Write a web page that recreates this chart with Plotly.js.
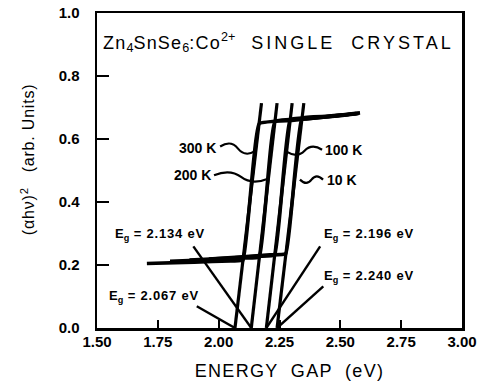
<!DOCTYPE html>
<html>
<head>
<meta charset="utf-8">
<script src="https://cdn.plot.ly/plotly-3.0.1.min.js"></script>
<style>
  html, body { margin: 0; padding: 0; background: #fff; }
  #chart { width: 488px; height: 387px; }
</style>
</head>
<body>
<div id="chart"></div>
<script>
// ---- data ----
const temps = ['300 K', '200 K', '100 K', '10 K'];
// extrapolated band-gap energies (x-intercepts), eV
const eg = [2.067, 2.134, 2.196, 2.240];
// x where each extrapolated straight line ends (top of line)
const lineTopX = [2.176, 2.240, 2.302, 2.350];
const lineTopY = [0.714, 0.714, 0.714, 0.714];

// measured (alpha h nu)^2 curves: low branch -> steep edge -> high branch
const curveX = [
  [1.705, 1.90, 2.05, 2.100, 2.167, 2.30, 2.45, 2.581],
  [1.800, 1.98, 2.10, 2.167, 2.232, 2.36, 2.50, 2.575],
  [1.880, 2.05, 2.16, 2.230, 2.294, 2.40, 2.52, 2.570],
  [1.960, 2.10, 2.21, 2.276, 2.342, 2.44, 2.53, 2.565]
];
const curveY = [
  [0.205, 0.209, 0.213, 0.215, 0.649, 0.659, 0.671, 0.683],
  [0.212, 0.217, 0.222, 0.225, 0.656, 0.664, 0.674, 0.681],
  [0.216, 0.222, 0.228, 0.231, 0.662, 0.668, 0.677, 0.681],
  [0.219, 0.226, 0.232, 0.236, 0.666, 0.672, 0.678, 0.681]
];

const xTicks = [1.50, 1.75, 2.00, 2.25, 2.50, 2.75, 3.00];
const yTicks = [0.0, 0.2, 0.4, 0.6, 0.8, 1.0];
const xTickText = ['1.50', '1.75', '2.00', '2.25', '2.50', '2.75', '3.00'];
const yTickText = ['0.0', '0.2', '0.4', '0.6', '0.8', '1.0'];

// ---- label placement (decoration) ----
const egLabelPos = [   // [x, y, anchor]
  [1.541, 0.100, 'left'],
  [1.566, 0.296, 'left'],
  [2.425, 0.296, 'left'],
  [2.425, 0.164, 'left']
];
const egPointerTail = [[1.910, 0.069], [1.896, 0.259], [2.417, 0.259], [2.430, 0.132]];
const tempLabelPos = [[1.997, 0.572, 'right'], [1.977, 0.487, 'right'], [2.429, 0.566, 'left'], [2.437, 0.471, 'left']];
const squiggle = [ // [x0,y0,x1,y1]
  [2.006, 0.576, 2.153, 0.563],
  [1.981, 0.485, 2.203, 0.474],
  [2.425, 0.566, 2.281, 0.559],
  [2.429, 0.471, 2.334, 0.471]
];

const FONT = '"Liberation Sans", Arial, Helvetica, sans-serif';
const sp = (t, px) => '<span style="letter-spacing:' + px + 'px">' + t + '</span>';

const traces = [];
for (let i = 0; i < temps.length; i++) {
  traces.push({
    x: [eg[i], lineTopX[i]], y: [0, lineTopY[i]],
    mode: 'lines', line: {color: '#000', width: 3.2},
    hoverinfo: 'skip', showlegend: false
  });
  traces.push({
    x: curveX[i], y: curveY[i], name: temps[i],
    mode: 'lines', line: {color: '#000', width: 3.6, shape: 'spline', smoothing: 0.3},
    showlegend: false
  });
}

const shapes = [];
const annotations = [];
for (let i = 0; i < eg.length; i++) {
  shapes.push({type: 'line', xref: 'x', yref: 'y',
    x0: egPointerTail[i][0], y0: egPointerTail[i][1], x1: eg[i], y1: 0,
    line: {color: '#000', width: 2.4}});
  annotations.push({xref: 'x', yref: 'y', x: egLabelPos[i][0], y: egLabelPos[i][1],
    xanchor: egLabelPos[i][2], yanchor: 'middle', showarrow: false,
    text: 'E<sub>g</sub>' + sp(' = ' + eg[i].toFixed(3) + ' eV', 0.8),
    font: {family: FONT, size: 13, color: '#000', weight: 'bold'}});
}
for (let i = 0; i < temps.length; i++) {
  const [x0, y0, x1, y1] = squiggle[i];
  const dx = x1 - x0, h = 0.014;
  const p = 'M ' + x0 + ',' + y0 +
    ' C ' + (x0 + dx * 0.2) + ',' + (y0 + h) + ' ' + (x0 + dx * 0.35) + ',' + (y0 + h) + ' ' + (x0 + dx * 0.5) + ',' + ((y0 + y1) / 2) +
    ' S ' + (x0 + dx * 0.8) + ',' + (y1 - h) + ' ' + x1 + ',' + y1;
  shapes.push({type: 'path', xref: 'x', yref: 'y', path: p, line: {color: '#000', width: 2.2}});
  annotations.push({xref: 'x', yref: 'y', x: tempLabelPos[i][0], y: tempLabelPos[i][1],
    xanchor: tempLabelPos[i][2], yanchor: 'middle', showarrow: false, text: temps[i],
    font: {family: FONT, size: 14, color: '#000', weight: 'bold'}});
}
annotations.push({xref: 'x', yref: 'y', x: 1.516, y: 0.905, xanchor: 'left', yanchor: 'middle',
  showarrow: false,
  text: sp('Zn', 1.2) + '<sub>4</sub>' + sp('SnSe', 1.2) + '<sub>6</sub>' + sp(':Co', 1.2) + '<sup>2+</sup>' +
        sp('  SINGLE  CRYSTAL', 3),
  font: {family: FONT, size: 18, color: '#000'}});

const layout = {
  width: 488, height: 387,
  margin: {l: 97, r: 26, t: 13, b: 59},
  paper_bgcolor: '#fff', plot_bgcolor: '#fff',
  font: {family: FONT, color: '#000'},
  xaxis: {
    range: [1.5, 3.0], tickvals: xTicks, ticktext: xTickText,
    ticks: 'inside', ticklen: 8, tickwidth: 2, tickcolor: '#000',
    showline: true, linewidth: 2.5, linecolor: '#000', mirror: true,
    showgrid: false, zeroline: false,
    tickfont: {family: FONT, size: 15, weight: 'bold'},
    ticklabelstandoff: -2,
    title: {text: '&nbsp;&nbsp;&nbsp;&nbsp;' + sp('ENERGY  GAP  (eV)', 1.3), font: {family: FONT, size: 18}, standoff: 16}
  },
  yaxis: {
    range: [0, 1.0], tickvals: yTicks, ticktext: yTickText,
    ticks: 'inside', ticklen: 12, tickwidth: 2, tickcolor: '#000',
    showline: true, linewidth: 2.5, linecolor: '#000', mirror: true,
    showgrid: false, zeroline: false,
    tickfont: {family: FONT, size: 15, weight: 'bold'},
    ticklabelstandoff: 12,
    title: {text: '&nbsp;&nbsp;&nbsp;&nbsp;&nbsp;' + sp('(αhν)', 0.8) + '<sup>2</sup>' + sp('   (arb. Units)', 0.8),
            font: {family: FONT, size: 16}, standoff: 20}
  },
  shapes: shapes,
  annotations: annotations,
  showlegend: false
};

Plotly.newPlot('chart', traces, layout, {displayModeBar: false, staticPlot: true});
</script>
</body>
</html>
